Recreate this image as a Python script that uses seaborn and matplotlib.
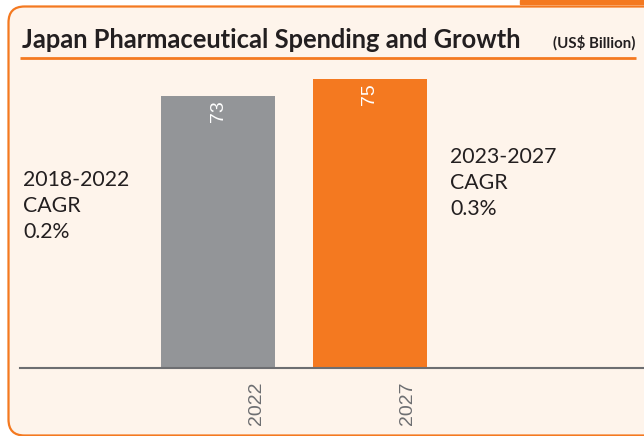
import matplotlib
matplotlib.use("Agg")
import matplotlib.pyplot as plt
import seaborn as sns
from matplotlib.patches import FancyBboxPatch, Rectangle
from matplotlib.transforms import ScaledTranslation

years = ["2022", "2027"]
spending = [73, 75]
bar_colors = ["#939598", "#F47920"]
left_note = ["2018-2022", "CAGR", "0.2%"]
right_note = ["2023-2027", "CAGR", "0.3%"]
title = "Japan Pharmaceutical Spending and Growth"
unit = "(US$ Billion)"

ORANGE = "#F47920"
PEACH = "#FEF4EB"
DARK = "#231F20"
AXGRAY = "#6D6E71"

W, H = 644, 436
fig = plt.figure(figsize=(W / 100, H / 100), dpi=100)
fig.patch.set_facecolor("white")

bg = fig.add_axes([0, 0, 1, 1], zorder=0)
bg.set_xlim(0, W)
bg.set_ylim(H, 0)
bg.axis("off")
bg.add_patch(FancyBboxPatch((8.5, 6.5), 700, 429, boxstyle="round,pad=0,rounding_size=16",
                            facecolor=PEACH, edgecolor=ORANGE, linewidth=1.6))
bg.add_patch(Rectangle((520, 0), 130, 4, color=ORANGE))
bg.plot([20, 636], [58, 58], color=ORANGE, lw=2, solid_capstyle="butt")
bg.text(22, 48, title, fontfamily="Lato", fontweight="bold", fontsize=18.4, color=DARK, va="baseline")
bg.text(635, 48, unit, fontfamily="Lato", fontweight="bold", fontsize=10.8, color=DARK, va="baseline", ha="right")
bg.text(23, 170, "\n".join(left_note), va="top", ha="left", fontfamily="Lato", fontsize=15.3,
        color=DARK, linespacing=1.36)
bg.text(450, 147, "\n".join(right_note), va="top", ha="left", fontfamily="Lato", fontsize=15.3,
        color=DARK, linespacing=1.36)

ax = fig.add_axes([20 / W, (H - 368) / H, 624 / W, 298 / H], zorder=1)
ax.patch.set_alpha(0)
sns.barplot(x=years, y=spending, hue=years, palette=bar_colors, width=0.75, saturation=1,
            legend=False, ax=ax)
ax.set_xlim(-1.303, 2.803)
ax.set_ylim(41, 76.06)
ax.set_xlabel("")
ax.set_ylabel("")
ax.set_yticks([])
for s in ["top", "right", "left"]:
    ax.spines[s].set_visible(False)
ax.spines["bottom"].set_color(AXGRAY)
ax.spines["bottom"].set_linewidth(1.5)

for i, v in enumerate(spending):
    ax.annotate(str(v), (i, v), xytext=(0, -4), textcoords="offset pixels", rotation=90,
                ha="center", va="top", color="white", fontsize=14, fontfamily="Liberation Sans")

ax.set_xticks(range(len(years)), labels=years)
ax.tick_params(axis="x", length=0, pad=10, labelrotation=90, labelcolor=AXGRAY, labelsize=14)
offset = ScaledTranslation(38 / 100, 0, fig.dpi_scale_trans)
for lab in ax.get_xticklabels():
    lab.set_fontfamily("Liberation Sans")
    lab.set_transform(lab.get_transform() + offset)

fig.savefig("out.png", dpi=100, facecolor=fig.get_facecolor())
